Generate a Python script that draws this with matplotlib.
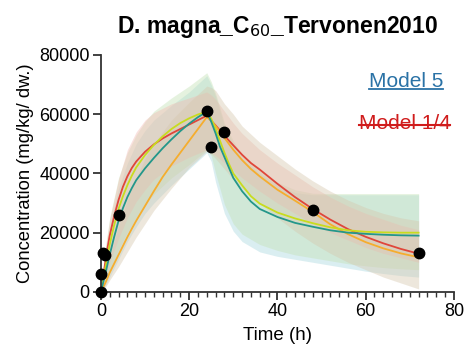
import matplotlib
matplotlib.use("Agg")
import matplotlib.pyplot as plt
import numpy as np

plt.rcParams['font.family'] = ['Liberation Sans', 'DejaVu Sans']

# observed data
obs_t = [0, 0, 0.5, 1, 4, 24, 25, 28, 48, 72]
obs_c = [0, 6200, 13000, 12500, 26000, 61000, 49000, 54000, 27600, 13100]

# model curves
t_curve = [0, 0.5, 1, 1.5, 2, 3, 4, 5, 6, 7, 8, 10, 12, 14, 16, 18, 20, 22, 24,
           25, 26, 27, 28, 29, 30, 32, 34, 36, 40, 44, 48, 52, 56, 60, 64, 68, 72]
red_c = [0, 5200, 10000, 14800, 19000, 25500, 31000, 35500, 39000, 41800, 44000, 47300,
         49800, 51800, 53500, 55000, 56500, 58000, 59500,
         57800, 56200, 54500, 52800, 51100, 49500, 46300, 43500, 41300, 36500, 32000,
         28000, 24400, 21200, 18600, 16400, 14500, 12900]
teal_c = [0, 3000, 6000, 9300, 12500, 18500, 24000, 28300, 32000, 35000, 37700, 41700,
          45200, 48500, 51500, 54300, 56800, 59000, 60800,
          57500, 53500, 49000, 45500, 42000, 38500, 34000, 30500, 28000, 25300, 23300,
          22000, 20800, 20000, 19600, 19300, 19100, 19000]
yellow_c = [0, 4000, 8000, 12000, 16000, 22500, 28000, 32300, 36000, 39200, 42000, 46200,
            49600, 52500, 55000, 57000, 58600, 59900, 60800,
            58500, 55000, 51000, 47000, 43300, 40000, 36000, 32300, 29800, 26800, 24800,
            23200, 21800, 20800, 20300, 20100, 20000, 20000]
orange_c = [0, 1500, 3000, 4700, 6500, 9500, 12500, 15500, 18500, 21300, 24000, 29000,
            34000, 38800, 43000, 47000, 51000, 55000, 59000,
            57800, 56000, 54000, 52000, 50000, 48000, 44500, 41500, 39000, 34500, 30800,
            27000, 22800, 19500, 16800, 14700, 13000, 11700]

# confidence bands
t_band = [0, 1, 2, 4, 6, 8, 10, 12, 16, 20, 24, 25, 26, 28, 30, 32, 36, 40, 44, 48,
          52, 56, 60, 64, 68, 72]
teal_lo = [0, 2000, 5000, 11000, 17000, 22000, 26500, 30000, 36000, 41500, 47000,
           44000, 37000, 26500, 20500, 17000, 13500, 12000, 11000, 10000, 9000, 8000,
           7000, 6200, 5500, 5000]
teal_hi = [0, 13000, 22000, 35000, 43500, 50000, 54500, 58000, 63000, 67500, 73000,
           70000, 66000, 56000, 50000, 45000, 40000, 36000, 33500, 32800, 32800, 32800,
           32800, 32800, 32800, 32800]
yellow_lo = [0, 3000, 7000, 14000, 20000, 25000, 29500, 33000, 38500, 43000, 48000,
             46000, 40000, 29500, 23000, 19500, 16000, 14000, 12500, 11500, 10500, 9500,
             8800, 8200, 7800, 7500]
yellow_hi = [0, 15000, 25000, 38500, 47000, 53000, 57500, 61000, 65500, 69500, 74000,
             71000, 67000, 57000, 51000, 46000, 41000, 37000, 34500, 33300, 33200, 33200,
             33200, 33200, 33200, 33200]
red_lo = [0, 5000, 10000, 18000, 25000, 30500, 34500, 38000, 42500, 45500, 48000,
          47000, 46000, 43500, 41000, 38500, 34000, 30000, 26500, 23000, 20000, 17500,
          15000, 13000, 11500, 10000]
red_hi = [0, 14000, 24500, 38000, 48000, 54000, 58000, 60500, 63500, 65500, 67500,
          66500, 65000, 61000, 57000, 53500, 48000, 43500, 39500, 35500, 32000, 29000,
          26500, 24500, 22500, 21000]
orange_lo = [0, 1500, 4000, 8500, 13500, 18500, 23000, 27500, 35000, 42000, 47500,
             46500, 45000, 41500, 38000, 35000, 30000, 25000, 20500, 16500, 13000, 10000,
             7500, 5000, 3000, 1000]
orange_hi = [0, 6000, 12000, 22000, 31000, 38500, 45000, 50000, 58000, 64000, 69500,
             69000, 68000, 63500, 60000, 56000, 50500, 46000, 41500, 37500, 34000, 31000,
             28500, 26500, 25000, 24000]

title_main = "D. magna_C$_{60}$_Tervonen2010"
x_label = "Time (h)"
y_label = "Concentration (mg/kg/ dw.)"
x_ticks = [0, 20, 40, 60, 80]
y_ticks = [0, 20000, 40000, 60000, 80000]

fig = plt.figure(figsize=(4.67, 3.5), dpi=100)
ax = fig.add_axes([0.216, 0.166, 0.756, 0.677])

bands = [
    (teal_lo, teal_hi, '#a9d7df'),
    (yellow_lo, yellow_hi, '#c3e2b4'),
    (red_lo, red_hi, '#f3b9b2'),
    (orange_lo, orange_hi, '#d6c7ad'),
]
for lo, hi, col in bands:
    ax.fill_between(t_band, lo, hi, color=col, alpha=0.42, linewidth=0)

ax.plot(t_curve, red_c, color='#e0463a', lw=1.3)
ax.plot(t_curve, orange_c, color='#f5ad2e', lw=1.3)
ax.plot(t_curve, yellow_c, color='#c8dc1e', lw=1.3)
ax.plot(t_curve, teal_c, color='#23978a', lw=1.3)

ax.plot(obs_t, obs_c, 'o', color='black', ms=7.5, zorder=5, clip_on=False)

ax.set_xlim(0, 80)
ax.set_ylim(0, 80000)
ax.set_xticks(x_ticks)
ax.set_xticks(np.arange(0, 81, 2), minor=True)
ax.set_yticks(y_ticks)
ax.set_yticklabels([str(v) for v in y_ticks])
ax.set_xticklabels([str(v) for v in x_ticks])

for s in ['top', 'right']:
    ax.spines[s].set_visible(False)
for s in ['left', 'bottom']:
    ax.spines[s].set_linewidth(1.3)
    ax.spines[s].set_color('#333333')
ax.tick_params(axis='both', which='major', length=6, width=1.3, color='#333333',
               labelsize=13, pad=2)
ax.tick_params(axis='x', which='minor', length=3.5, width=1.0, color='#333333')

ax.set_xlabel(x_label, fontsize=13.5, labelpad=5)
ax.set_ylabel(y_label, fontsize=13.2, labelpad=4)
ax.set_title(title_main, fontsize=16.5, fontweight='bold', pad=16)

ax.text(0.97, 0.89, "Model 5", transform=ax.transAxes, ha='right', va='center',
        fontsize=15, color='#2a72a6')
ax.text(0.99, 0.71, "Model 1/4", transform=ax.transAxes, ha='right', va='center',
        fontsize=15, color='#d01c1c')

fig.canvas.draw()
# underline and strikethrough drawn as lines relative to the texts
r = fig.canvas.get_renderer()
for txt in ax.texts:
    bb = txt.get_window_extent(renderer=r).transformed(fig.transFigure.inverted())
    if txt.get_text() == "Model 5":
        y = bb.y0 + 0.005
        fig.add_artist(plt.Line2D([bb.x0, bb.x1], [y, y], color='#2a72a6', lw=1.3,
                                  transform=fig.transFigure))
    else:
        y = bb.y0 + (bb.y1 - bb.y0) * 0.45
        fig.add_artist(plt.Line2D([bb.x0, bb.x1], [y, y], color='#d01c1c', lw=1.5,
                                  transform=fig.transFigure))

fig.savefig("out.png", dpi=100)
